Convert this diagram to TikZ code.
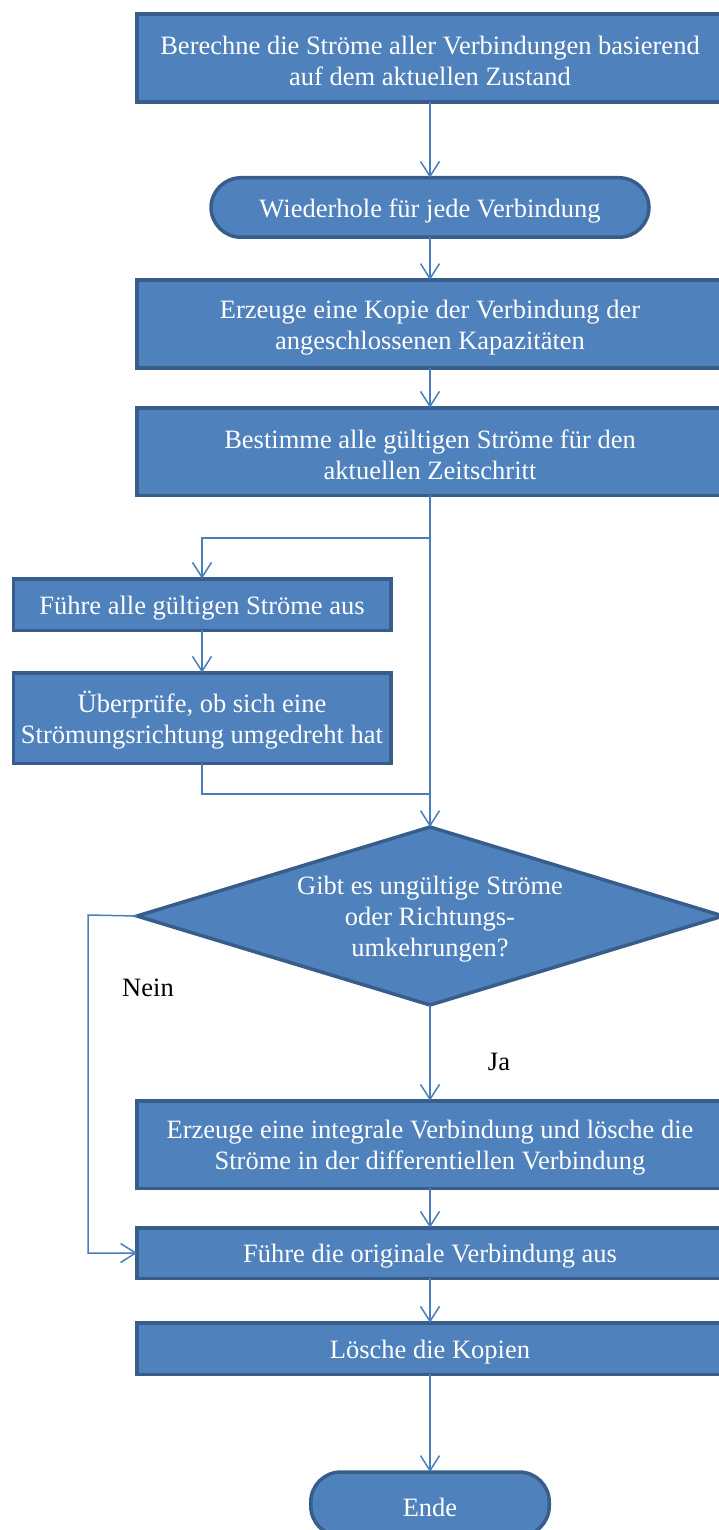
\documentclass[tikz,border=0pt]{standalone}
\usepackage{fontspec}
\setmainfont{Liberation Serif}
\usetikzlibrary{shapes.geometric,arrows.meta}
\definecolor{boxfill}{HTML}{4F81BD}
\definecolor{boxline}{HTML}{385D8A}
\definecolor{flowline}{HTML}{4A7EBB}
% invisible strut on the first line to seat the text a little lower in its box
\newcommand{\firstline}{\rule{0pt}{25pt}}
\tikzset{
  textfont/.style={font=\fontsize{26.5}{31}\selectfont},
  stepbox/.style={rectangle, fill=boxfill, draw=boxline, line width=3.5pt,
    text=white, align=center, inner sep=0pt, outer sep=0pt, textfont},
  termbox/.style={stepbox, rounded corners=30pt},
  decision/.style={diamond, aspect=3.24, fill=boxfill, draw=boxline, line width=3.5pt,
    text=white, align=center, inner sep=0pt, outer sep=0pt, textfont},
  flow/.style={draw=flowline, line width=1.5pt, -{Straight Barb[length=15pt,width=19pt]}},
  plainflow/.style={draw=flowline, line width=1.5pt},
  lbl/.style={text=black, inner sep=0pt, textfont}
}
\begin{document}
\begin{tikzpicture}[x=1pt,y=-1pt]
  \useasboundingbox (0,0) rectangle (719,1530);
  \clip (0,0) rectangle (719,1530);

  % process steps
  \node[stepbox, minimum width=586pt, minimum height=88pt] (b1) at (430,58)
    {\firstline Berechne die Ströme aller Verbindungen basierend\\auf dem aktuellen Zustand};
  \node[termbox, minimum width=438pt, minimum height=59.5pt] (loop) at (430,207.5)
    {\firstline Wiederhole für jede Verbindung};
  \node[stepbox, minimum width=586pt, minimum height=88pt] (b3) at (430,324)
    {\firstline Erzeuge eine Kopie der Verbindung der\\angeschlossenen Kapazitäten};
  \node[stepbox, minimum width=586pt, minimum height=87.5pt] (b4) at (430,451.5)
    {\firstline Bestimme alle gültigen Ströme für den\\aktuellen Zeitschritt};
  \node[stepbox, minimum width=377.5pt, minimum height=51.5pt] (b5) at (202,604.5)
    {\firstline Führe alle gültigen Ströme aus};
  \node[stepbox, minimum width=377.5pt, minimum height=90.5pt] (b6) at (202,718)
    {\firstline Überprüfe, ob sich eine\\Strömungsrichtung umgedreht hat};
  \node[decision, minimum width=586pt, minimum height=178pt] (dia) at (430,916)
    {\firstline Gibt es ungültige Ströme\\oder Richtungs-\\umkehrungen?};
  \node[stepbox, minimum width=586pt, minimum height=87.5pt] (b7) at (430,1144.5)
    {\firstline Erzeuge eine integrale Verbindung und lösche die\\Ströme in der differentiellen Verbindung};
  \node[stepbox, minimum width=586pt, minimum height=50.5pt] (b8) at (430,1253)
    {\firstline Führe die originale Verbindung aus};
  \node[stepbox, minimum width=586pt, minimum height=51.5pt] (b9) at (430,1348.5)
    {\firstline Lösche die Kopien};
  \node[termbox, minimum width=238.5pt, minimum height=64pt] (end) at (430,1504)
    {\firstline Ende};

  % branch points
  \coordinate (split) at (430,538);
  \coordinate (merge) at (430,794);
  \coordinate (nein) at (88,915);

  % connectors
  \draw[flow] (b1.south) -- (loop.north);
  \draw[flow] (loop.south) -- (b3.north);
  \draw[flow] (b3.south) -- (b4.north);
  \draw[flow] (b4.south) -- (dia.north);
  \draw[flow] (split) -| (b5.north);
  \draw[flow] (b5.south) -- (b6.north);
  \draw[plainflow] (b6.south) |- (merge);
  \draw[flow] (dia.west) -- (nein) |- (b8.west);
  \draw[flow] (dia.south) -- (b7.north);
  \draw[flow] (b7.south) -- (b8.north);
  \draw[flow] (b8.south) -- (b9.north);
  \draw[flow] (b9.south) -- (end.north);

  % branch labels
  \node[lbl] (nlbl) at (148,988) {Nein};
  \node[lbl] (jlbl) at (499,1062) {Ja};
\end{tikzpicture}
\end{document}
